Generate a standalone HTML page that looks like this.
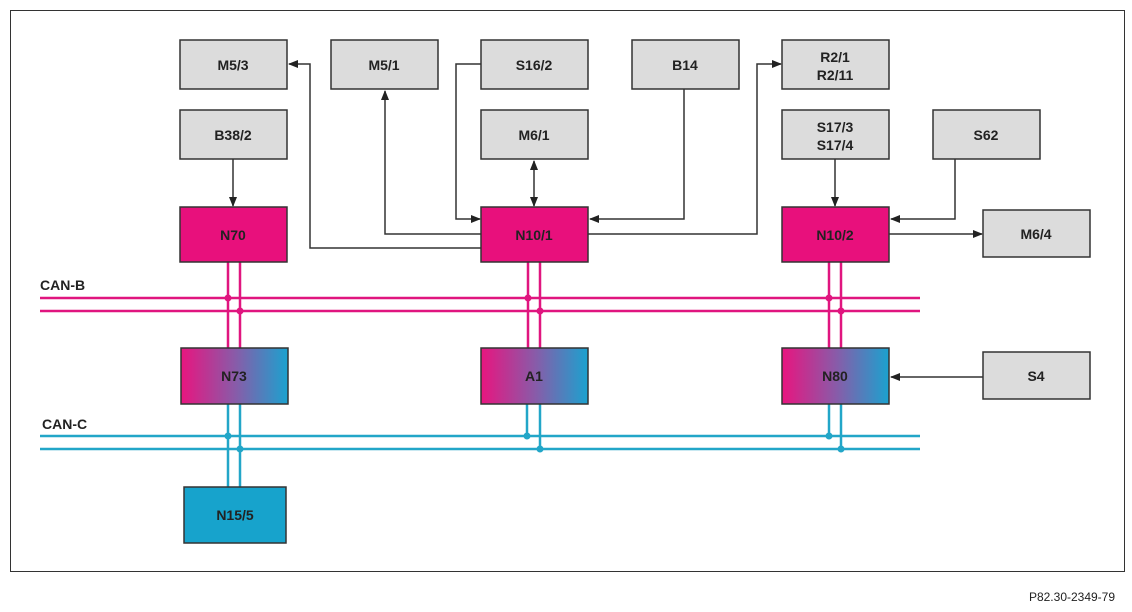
<!DOCTYPE html>
<html><head><style>
html,body{margin:0;padding:0;background:#fff;}
svg{display:block;}
text{font-family:"Liberation Sans",sans-serif;font-weight:bold;font-size:14px;text-anchor:middle;fill:#222;}
</style></head><body>
<svg width="1132" height="612" viewBox="0 0 1132 612">
<defs>
<linearGradient id="g" x1="0" x2="1" y1="0" y2="0">
<stop offset="0" stop-color="#e8157f"/><stop offset="0.5" stop-color="#8a5aa8"/><stop offset="1" stop-color="#1ba2cf"/>
</linearGradient>
<marker id="a" markerWidth="10" markerHeight="8" refX="9" refY="4" orient="auto-start-reverse" markerUnits="userSpaceOnUse">
<path d="M0,0 L10,4 L0,8 z" fill="#222"/></marker>
</defs>
<rect x="10.5" y="10.5" width="1114" height="561" fill="none" stroke="#333" stroke-width="1"/>
<g fill="none" stroke="#333" stroke-width="1.5">
<line x1="233" y1="159" x2="233" y2="206" marker-end="url(#a)"/>
<polyline points="481,248 310,248 310,64 289,64" marker-end="url(#a)"/>
<polyline points="481,234 385,234 385,91" marker-end="url(#a)"/>
<polyline points="481,64 456,64 456,219 480,219" marker-end="url(#a)"/>
<line x1="534" y1="161" x2="534" y2="206" marker-start="url(#a)" marker-end="url(#a)"/>
<polyline points="684,89 684,219 590,219" marker-end="url(#a)"/>
<polyline points="588,234 757,234 757,64 781,64" marker-end="url(#a)"/>
<line x1="835" y1="159" x2="835" y2="206" marker-end="url(#a)"/>
<polyline points="955,159 955,219 891,219" marker-end="url(#a)"/>
<line x1="889" y1="234" x2="982" y2="234" marker-end="url(#a)"/>
<line x1="983" y1="377" x2="891" y2="377" marker-end="url(#a)"/>
</g>
<g stroke="#e0157f" stroke-width="2.5" fill="none">
<line x1="40" y1="298" x2="920" y2="298"/><line x1="40" y1="311" x2="920" y2="311"/>
<line x1="228" y1="262" x2="228" y2="348"/><line x1="240" y1="262" x2="240" y2="348"/>
<line x1="528" y1="262" x2="528" y2="348"/><line x1="540" y1="262" x2="540" y2="348"/>
<line x1="829" y1="262" x2="829" y2="348"/><line x1="841" y1="262" x2="841" y2="348"/>
</g>
<g fill="#e0157f"><circle cx="228" cy="298" r="3.5"/><circle cx="240" cy="311" r="3.5"/><circle cx="528" cy="298" r="3.5"/><circle cx="540" cy="311" r="3.5"/><circle cx="829" cy="298" r="3.5"/><circle cx="841" cy="311" r="3.5"/></g>
<g stroke="#22a6c8" stroke-width="2.5" fill="none">
<line x1="40" y1="436" x2="920" y2="436"/><line x1="40" y1="449" x2="920" y2="449"/>
<line x1="228" y1="404" x2="228" y2="487"/><line x1="240" y1="404" x2="240" y2="487"/>
<line x1="527" y1="404" x2="527" y2="436"/><line x1="540" y1="404" x2="540" y2="449"/>
<line x1="829" y1="404" x2="829" y2="436"/><line x1="841" y1="404" x2="841" y2="449"/>
</g>
<g fill="#22a6c8"><circle cx="228" cy="436" r="3.5"/><circle cx="240" cy="449" r="3.5"/><circle cx="527" cy="436" r="3.5"/><circle cx="540" cy="449" r="3.5"/><circle cx="829" cy="436" r="3.5"/><circle cx="841" cy="449" r="3.5"/></g>
<text x="40" y="290" style="text-anchor:start">CAN-B</text>
<text x="42" y="429" style="text-anchor:start">CAN-C</text>
<g stroke="#333" stroke-width="1.5" fill="#dcdcdc">
<rect x="180" y="40" width="107" height="49"/><rect x="331" y="40" width="107" height="49"/>
<rect x="481" y="40" width="107" height="49"/><rect x="632" y="40" width="107" height="49"/>
<rect x="782" y="40" width="107" height="49"/><rect x="180" y="110" width="107" height="49"/>
<rect x="481" y="110" width="107" height="49"/><rect x="782" y="110" width="107" height="49"/>
<rect x="933" y="110" width="107" height="49"/><rect x="983" y="210" width="107" height="47"/>
<rect x="983" y="352" width="107" height="47"/>
</g>
<g stroke="#333" stroke-width="1.5" fill="#e8107c">
<rect x="180" y="207" width="107" height="55"/><rect x="481" y="207" width="107" height="55"/><rect x="782" y="207" width="107" height="55"/>
</g>
<g stroke="#333" stroke-width="1.5" fill="url(#g)">
<rect x="181" y="348" width="107" height="56"/><rect x="481" y="348" width="107" height="56"/><rect x="782" y="348" width="107" height="56"/>
</g>
<rect x="184" y="487" width="102" height="56" fill="#17a3cc" stroke="#333" stroke-width="1.5"/>
<text x="233" y="70">M5/3</text><text x="384" y="70">M5/1</text><text x="534" y="70">S16/2</text>
<text x="685" y="70">B14</text><text x="835" y="62">R2/1</text><text x="835" y="80">R2/11</text>
<text x="233" y="140">B38/2</text><text x="534" y="140">M6/1</text>
<text x="835" y="132">S17/3</text><text x="835" y="150">S17/4</text><text x="986" y="140">S62</text>
<text x="233" y="240" fill="#5a0a30">N70</text><text x="534" y="240" fill="#5a0a30">N10/1</text><text x="835" y="240" fill="#5a0a30">N10/2</text>
<text x="1036" y="239">M6/4</text><text x="1036" y="381">S4</text>
<text x="234" y="381">N73</text><text x="534" y="381">A1</text><text x="835" y="381">N80</text>
<text x="235" y="520">N15/5</text>
<text x="1072" y="601" style="font-weight:normal;font-size:12px">P82.30-2349-79</text>
</svg>
</body></html>
